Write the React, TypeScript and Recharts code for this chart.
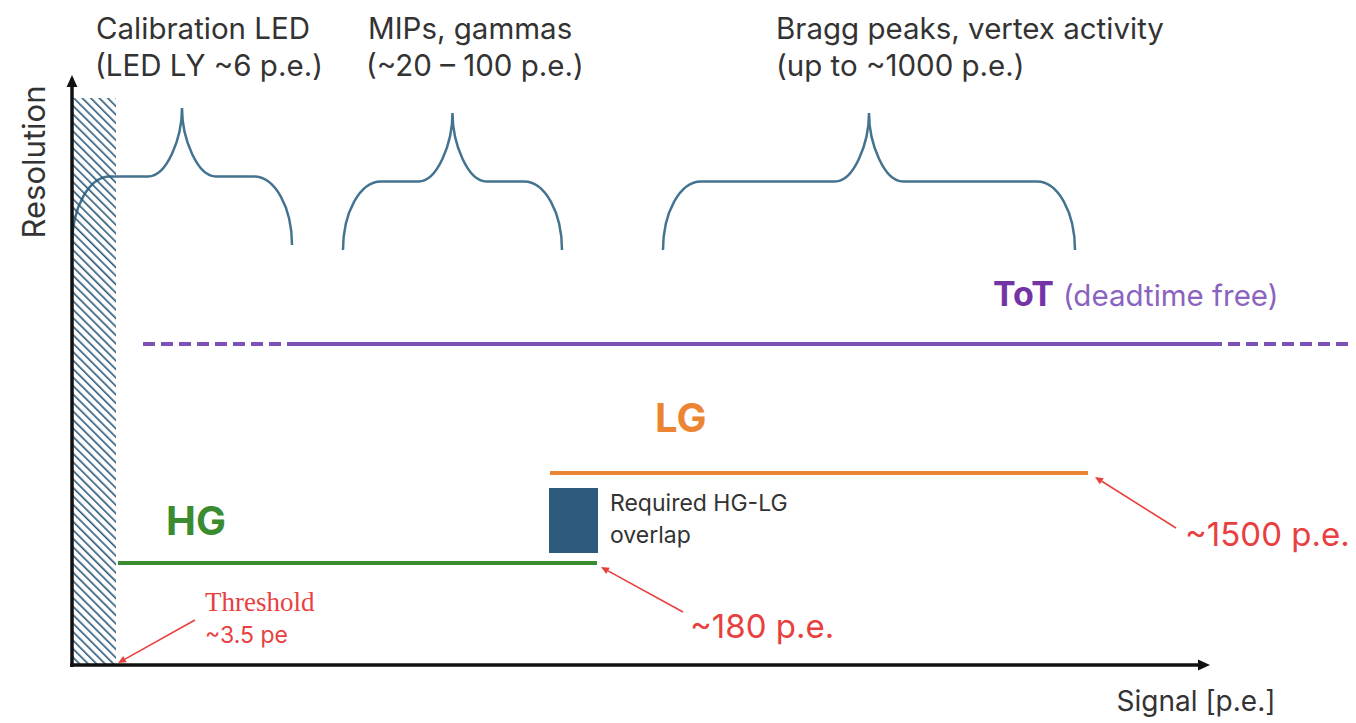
import React from "react";
import {
  ComposedChart,
  Line,
  XAxis,
  YAxis,
  ReferenceArea,
  ReferenceLine,
  ReferenceDot,
} from "recharts";

// signal axis in arbitrary units, origin at the axis corner
const X_DOMAIN: [number, number] = [-6.4, 128.4];
const Y_DOMAIN: [number, number] = [-5.8, 65.7];

// physics ranges shown with braces
const rangeTitles = ["Calibration LED", "MIPs, gammas", "Bragg peaks, vertex activity"];
const rangeSubtitles = ["(LED LY ~6 p.e.)", "(~20 – 100 p.e.)", "(up to ~1000 p.e.)"];
const rangeStart = [0, 27.1, 59.1];
const rangeEnd = [22, 49, 100.3];
const rangeTop = [55.7, 55.2, 55.2];
const rangeBottom = [42.0, 41.5, 41.5];

// readout channels
const hgSpan = [4.6, 52.5];
const hgLevel = 10.2;
const lgSpan = [47.8, 101.6];
const lgLevel = 19.2;
const totLowSpan = [7.1, 21.6];
const totMainSpan = [21.6, 113.8];
const totHighSpan = [113.8, 127.8];
const totLevel = 32.1;

const overlapX = [47.7, 52.6];
const overlapY = [11.2, 17.7];
const thresholdX = [0.1, 4.4];
const thresholdTop = 56.7;

const annotationLabels = ["Threshold", "~3.5 pe", "~180 p.e.", "~1500 p.e."];
const channelLabels = ["HG", "LG", "ToT", "(deadtime free)"];
const overlapLabels = ["Required HG-LG", "overlap"];
const axisLabels = ["Signal [p.e.]", "Resolution"];

const seg = (xs: number[], y: number) => xs.map((x) => ({ x, y }));

const RED = "#e8403f";
const BRACE = "#44738f";
const SANS = "Inter, 'Open Sans', sans-serif";

const arrowShape = (color: string, width: number, head: number) => (p: any) => {
  const { x1, y1, x2, y2 } = p;
  const a = Math.atan2(y2 - y1, x2 - x1);
  const bx = x2 - head * Math.cos(a);
  const by = y2 - head * Math.sin(a);
  const nx = -Math.sin(a) * head * 0.45;
  const ny = Math.cos(a) * head * 0.45;
  return (
    <g>
      <line x1={x1} y1={y1} x2={bx} y2={by} stroke={color} strokeWidth={width} />
      <polygon points={`${x2},${y2} ${bx + nx},${by + ny} ${bx - nx},${by - ny}`} fill={color} />
    </g>
  );
};

const braceShape = (p: any) => {
  const { x, y, width: w, height: h } = p;
  const xc = x + w / 2;
  const yb = y + h;
  const ys = y + h / 2;
  const re = 38;
  const ri = 34;
  const k = 0.55;
  const d =
    `M${x},${yb} C${x},${yb - k * (yb - ys)} ${x + re * (1 - k)},${ys} ${x + re},${ys} ` +
    `L${xc - ri},${ys} C${xc - ri * (1 - k)},${ys} ${xc},${ys - k * (ys - y)} ${xc},${y} ` +
    `C${xc},${ys - k * (ys - y)} ${xc + ri * (1 - k)},${ys} ${xc + ri},${ys} ` +
    `L${x + w - re},${ys} C${x + w - re * (1 - k)},${ys} ${x + w},${yb - k * (yb - ys)} ${x + w},${yb}`;
  return <path d={d} fill="none" stroke={BRACE} strokeWidth={2.5} />;
};

const hatchShape = (p: any) => (
  <g>
    <defs>
      <pattern id="hatch" width={6} height={6} patternUnits="userSpaceOnUse" patternTransform="rotate(-45)">
        <line x1={0} y1={0} x2={0} y2={6} stroke="#2b5878" strokeWidth={3.2} />
      </pattern>
    </defs>
    <rect x={p.x} y={p.y} width={p.width} height={p.height} fill="url(#hatch)" />
  </g>
);

const textShape = (content: React.ReactNode, style: any) => (p: any) => (
  <text x={p.cx} y={p.cy} {...style}>
    {content}
  </text>
);

export default function App() {
  const title = { fontFamily: SANS, fontSize: 29.5, fill: "#333333" };
  const big = (fill: string) => ({ fontFamily: SANS, fontSize: 40, fontWeight: 700, fill });
  const red = { fontFamily: SANS, fontSize: 33, fill: RED };

  return (
    <ComposedChart width={1348} height={715} margin={{ top: 0, right: 0, bottom: 0, left: 0 }}>
      <XAxis type="number" dataKey="x" domain={X_DOMAIN} hide allowDataOverflow />
      <YAxis type="number" dataKey="y" domain={Y_DOMAIN} hide allowDataOverflow />

      {rangeStart.map((s, i) => (
        <ReferenceArea
          key={`brace-${i}`}
          x1={s}
          x2={rangeEnd[i]}
          y1={rangeBottom[i]}
          y2={rangeTop[i]}
          shape={braceShape}
        />
      ))}

      <ReferenceArea x1={thresholdX[0]} x2={thresholdX[1]} y1={0} y2={thresholdTop} shape={hatchShape} />
      <ReferenceArea
        x1={overlapX[0]}
        x2={overlapX[1]}
        y1={overlapY[0]}
        y2={overlapY[1]}
        fill="#2d5a7d"
        fillOpacity={1}
        stroke="none"
      />

      <Line data={seg(totLowSpan, totLevel)} dataKey="y" stroke="#7c52b6" strokeWidth={4} strokeDasharray="12 6" dot={false} activeDot={false} isAnimationActive={false} />
      <Line data={seg(totMainSpan, totLevel)} dataKey="y" stroke="#7c52b6" strokeWidth={4} dot={false} activeDot={false} isAnimationActive={false} />
      <Line data={seg(totHighSpan, totLevel)} dataKey="y" stroke="#7c52b6" strokeWidth={4} strokeDasharray="12 6" dot={false} activeDot={false} isAnimationActive={false} />
      <Line data={seg(lgSpan, lgLevel)} dataKey="y" stroke="#ec8533" strokeWidth={4} dot={false} activeDot={false} isAnimationActive={false} />
      <Line data={seg(hgSpan, hgLevel)} dataKey="y" stroke="#3b8c30" strokeWidth={4} dot={false} activeDot={false} isAnimationActive={false} />

      {/* axes */}
      <ReferenceLine segment={[{ x: 0, y: -0.2 }, { x: 0, y: 59 }]} ifOverflow="visible" shape={arrowShape("#111", 3.5, 12)} />
      <ReferenceLine segment={[{ x: -0.2, y: 0 }, { x: 113.8, y: 0 }]} ifOverflow="visible" shape={arrowShape("#111", 3.5, 12)} />

      {/* red callouts */}
      <ReferenceLine segment={[{ x: 12.3, y: 4.5 }, { x: 4.6, y: 0.2 }]} ifOverflow="visible" shape={arrowShape(RED, 1.6, 8)} />
      <ReferenceLine segment={[{ x: 61.1, y: 5.3 }, { x: 52.9, y: 9.8 }]} ifOverflow="visible" shape={arrowShape(RED, 1.6, 8)} />
      <ReferenceLine segment={[{ x: 110.4, y: 13.7 }, { x: 102.3, y: 18.8 }]} ifOverflow="visible" shape={arrowShape(RED, 1.6, 8)} />

      {/* range titles */}
      {[2.4, 29.6, 70.4].map((x, i) => (
        <ReferenceDot key={`t-${i}`} x={x} y={62.6} r={0} ifOverflow="visible" shape={textShape(rangeTitles[i], title)} />
      ))}
      {[2.3, 29.4, 70.4].map((x, i) => (
        <ReferenceDot key={`s-${i}`} x={x} y={58.9} r={0} ifOverflow="visible" shape={textShape(rangeSubtitles[i], title)} />
      ))}

      {/* channel labels */}
      <ReferenceDot x={9.4} y={13} r={0} shape={textShape(channelLabels[0], big("#3b8c30"))} />
      <ReferenceDot x={58.3} y={23.3} r={0} shape={textShape(channelLabels[1], big("#ec8533"))} />
      <ReferenceDot
        x={92.1}
        y={35.9}
        r={0}
        shape={textShape(
          <>
            <tspan fontSize={34} fontWeight={700} fill="#7335a6">{channelLabels[2]}</tspan>
            <tspan dx={9} fontSize={29.5} fontWeight={400} fill="#8a63c0">{channelLabels[3]}</tspan>
          </>,
          { fontFamily: SANS }
        )}
      />
      <ReferenceDot x={53.8} y={15.4} r={0} shape={textShape(overlapLabels[0], { fontFamily: SANS, fontSize: 23, fill: "#333" })} />
      <ReferenceDot x={53.8} y={12.2} r={0} shape={textShape(overlapLabels[1], { fontFamily: SANS, fontSize: 23, fill: "#333" })} />

      {/* callout labels */}
      <ReferenceDot x={13.3} y={5.4} r={0} shape={textShape(annotationLabels[0], { fontFamily: "'Liberation Serif', serif", fontSize: 27, fill: RED })} />
      <ReferenceDot x={13.3} y={2.2} r={0} shape={textShape(annotationLabels[1], { fontFamily: SANS, fontSize: 23, fill: RED })} />
      <ReferenceDot x={61.8} y={2.7} r={0} shape={textShape(annotationLabels[2], red)} />
      <ReferenceDot x={111.3} y={11.9} r={0} shape={textShape(annotationLabels[3], red)} />

      {/* axis titles */}
      <ReferenceDot x={112.4} y={-4.6} r={0} ifOverflow="visible" shape={textShape(axisLabels[0], { fontFamily: SANS, fontSize: 28, fill: "#333", textAnchor: "middle" })} />
      <ReferenceDot
        x={-3.9}
        y={50.3}
        r={0}
        shape={(p: any) => (
          <text
            x={p.cx}
            y={p.cy}
            transform={`rotate(-90 ${p.cx} ${p.cy})`}
            textAnchor="middle"
            dominantBaseline="central"
            fontFamily={SANS}
            fontSize={31}
            fill="#333"
          >
            {axisLabels[1]}
          </text>
        )}
      />
    </ComposedChart>
  );
}
